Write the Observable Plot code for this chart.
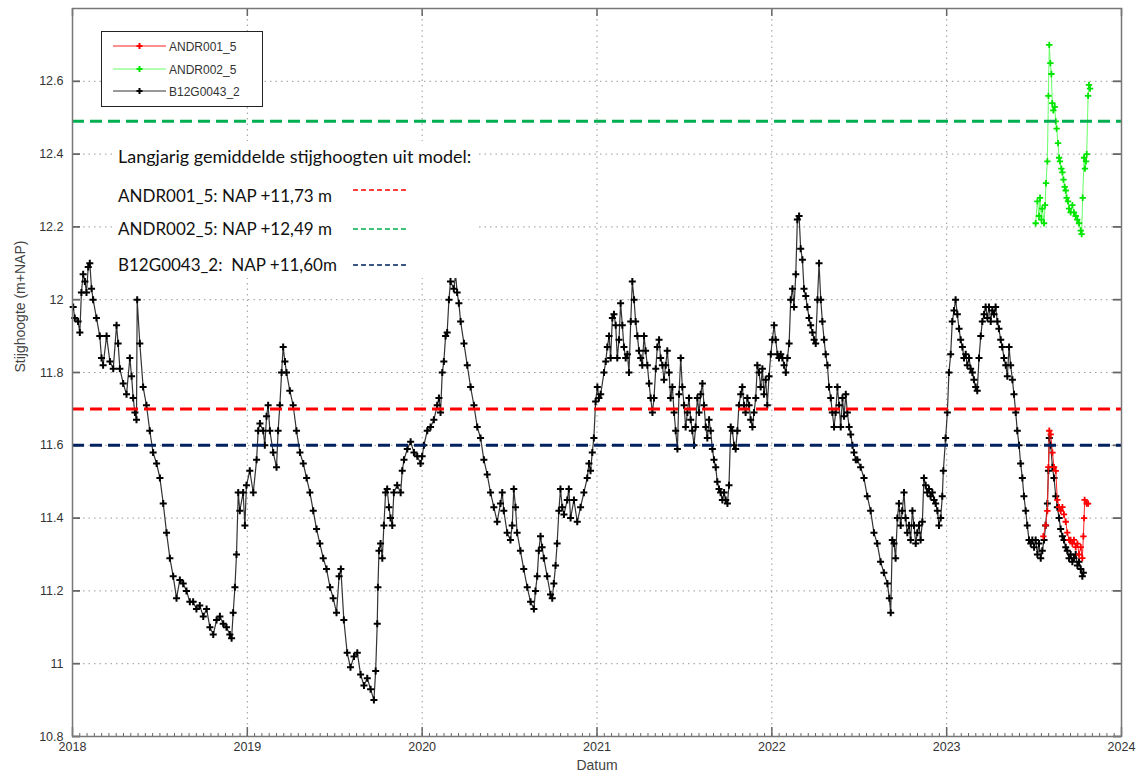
<!DOCTYPE html>
<html><head><meta charset="utf-8">
<script src="https://cdn.jsdelivr.net/npm/d3@7"></script>
<script src="https://cdn.jsdelivr.net/npm/@observablehq/plot@0.6"></script>
<style>
body{margin:0;background:#fff;}
#wrap{position:relative;width:1138px;height:778px;overflow:hidden;}
#legend{position:absolute;left:101px;top:31px;width:160px;height:74px;border:1px solid #222;background:#fff;font-family:"Liberation Sans",Arial,sans-serif;font-size:12px;color:#333;}
#note{position:absolute;left:115px;top:141px;width:362px;height:137px;background:#fff;font-family:Lato,"Open Sans",sans-serif;font-size:17px;color:#111;}
.nl{position:absolute;left:3px;white-space:pre;line-height:20px;}
</style></head><body><div id="wrap"></div>
<script>
// ---- data (decimal year, m+NAP) ----
const blackReadings = [
[2018.004,11.98],[2018.013,11.95],[2018.032,11.94],[2018.042,11.91],[2018.051,12.02],[2018.061,12.07],[2018.071,12.05],[2018.080,12.02],[2018.090,12.09],[2018.099,12.10],[2018.109,12.03],[2018.118,12.00],[2018.137,11.95],[2018.156,11.90],[2018.166,11.84],[2018.175,11.82],[2018.195,11.90],[2018.214,11.83],[2018.233,11.81],[2018.252,11.93],[2018.261,11.88],[2018.271,11.81],[2018.290,11.77],[2018.309,11.74],[2018.328,11.84],[2018.338,11.79],[2018.347,11.73],[2018.357,11.69],[2018.366,11.67],[2018.370,12.00],[2018.385,11.88],[2018.404,11.76],[2018.423,11.71],[2018.442,11.64],[2018.461,11.58],[2018.481,11.55],[2018.500,11.51],[2018.519,11.44],[2018.538,11.36],[2018.557,11.29],[2018.576,11.24],[2018.595,11.18],[2018.614,11.23],[2018.633,11.22],[2018.652,11.20],[2018.671,11.17],[2018.690,11.17],[2018.709,11.15],[2018.728,11.16],[2018.748,11.13],[2018.767,11.15],[2018.786,11.10],[2018.805,11.08],[2018.824,11.12],[2018.843,11.13],[2018.862,11.11],[2018.881,11.10],[2018.900,11.08],[2018.910,11.07],[2018.919,11.14],[2018.929,11.21],[2018.938,11.30],[2018.948,11.47],[2018.957,11.42],[2018.976,11.47],[2018.986,11.38],[2018.995,11.49],
[2019.014,11.53],[2019.034,11.47],[2019.053,11.56],[2019.062,11.64],[2019.072,11.66],[2019.091,11.64],[2019.100,11.60],[2019.110,11.68],[2019.119,11.71],[2019.129,11.64],[2019.148,11.58],[2019.167,11.54],[2019.176,11.64],[2019.186,11.71],[2019.196,11.80],[2019.205,11.87],[2019.215,11.83],[2019.224,11.80],[2019.243,11.75],[2019.262,11.71],[2019.281,11.64],[2019.301,11.58],[2019.320,11.55],[2019.339,11.51],[2019.358,11.47],[2019.377,11.42],[2019.396,11.37],[2019.415,11.33],[2019.434,11.29],[2019.453,11.26],[2019.473,11.21],[2019.491,11.18],[2019.510,11.14],[2019.525,11.24],[2019.535,11.26],[2019.552,11.12],[2019.571,11.03],[2019.590,10.99],[2019.610,11.02],[2019.629,11.03],[2019.648,10.97],[2019.667,10.94],[2019.686,10.96],[2019.705,10.93],[2019.724,10.90],[2019.734,10.98],[2019.743,11.11],[2019.747,11.21],[2019.753,11.31],[2019.762,11.33],[2019.772,11.29],[2019.781,11.38],[2019.791,11.47],[2019.800,11.48],[2019.810,11.43],[2019.819,11.40],[2019.829,11.38],[2019.838,11.47],[2019.857,11.49],[2019.877,11.47],[2019.886,11.53],[2019.896,11.56],[2019.915,11.59],[2019.934,11.61],[2019.953,11.58],[2019.972,11.57],[2019.991,11.55],
[2020.000,11.57],[2020.010,11.60],[2020.029,11.64],[2020.048,11.65],[2020.067,11.67],[2020.086,11.71],[2020.096,11.73],[2020.105,11.69],[2020.115,11.80],[2020.124,11.83],[2020.134,11.90],[2020.143,11.91],[2020.153,12.00],[2020.162,12.05],[2020.181,12.03],[2020.191,12.07],[2020.200,12.02],[2020.210,11.99],[2020.220,11.94],[2020.239,11.88],[2020.258,11.82],[2020.277,11.76],[2020.296,11.71],[2020.315,11.65],[2020.334,11.62],[2020.353,11.56],[2020.372,11.52],[2020.391,11.47],[2020.410,11.43],[2020.429,11.39],[2020.448,11.44],[2020.458,11.47],[2020.467,11.42],[2020.486,11.36],[2020.505,11.34],[2020.515,11.38],[2020.524,11.48],[2020.534,11.43],[2020.543,11.36],[2020.562,11.31],[2020.581,11.26],[2020.601,11.21],[2020.620,11.17],[2020.639,11.15],[2020.648,11.20],[2020.658,11.24],[2020.667,11.31],[2020.677,11.35],[2020.686,11.32],[2020.696,11.29],[2020.715,11.24],[2020.734,11.19],[2020.744,11.18],[2020.753,11.22],[2020.763,11.27],[2020.772,11.33],[2020.782,11.42],[2020.791,11.48],[2020.801,11.43],[2020.811,11.41],[2020.830,11.45],[2020.839,11.48],[2020.849,11.40],[2020.868,11.45],[2020.887,11.39],[2020.906,11.43],[2020.925,11.47],[2020.944,11.51],[2020.954,11.55],[2020.963,11.53],[2020.973,11.58],[2020.982,11.62],[2020.992,11.72],
[2021.002,11.76],[2021.011,11.73],[2021.021,11.74],[2021.040,11.80],[2021.050,11.83],[2021.059,11.87],[2021.069,11.90],[2021.078,11.84],[2021.088,11.95],[2021.097,11.96],[2021.107,11.93],[2021.116,11.84],[2021.126,11.89],[2021.135,11.99],[2021.145,11.93],[2021.154,11.87],[2021.164,11.84],[2021.174,11.85],[2021.183,11.80],[2021.193,11.94],[2021.202,12.05],[2021.212,12.00],[2021.221,11.94],[2021.231,11.90],[2021.240,11.86],[2021.250,11.84],[2021.259,11.82],[2021.269,11.90],[2021.278,11.86],[2021.288,11.82],[2021.298,11.77],[2021.307,11.73],[2021.317,11.69],[2021.326,11.73],[2021.336,11.81],[2021.345,11.87],[2021.355,11.89],[2021.364,11.84],[2021.374,11.82],[2021.383,11.78],[2021.393,11.82],[2021.402,11.86],[2021.412,11.80],[2021.421,11.73],[2021.431,11.76],[2021.441,11.69],[2021.450,11.64],[2021.460,11.59],[2021.469,11.74],[2021.479,11.84],[2021.488,11.76],[2021.498,11.71],[2021.507,11.65],[2021.517,11.69],[2021.526,11.73],[2021.536,11.67],[2021.545,11.64],[2021.555,11.60],[2021.564,11.65],[2021.574,11.73],[2021.584,11.69],[2021.593,11.74],[2021.603,11.77],[2021.612,11.71],[2021.622,11.65],[2021.631,11.62],[2021.641,11.67],[2021.650,11.64],[2021.660,11.59],[2021.669,11.56],[2021.679,11.54],[2021.688,11.50],[2021.698,11.48],[2021.707,11.47],[2021.717,11.45],[2021.727,11.47],[2021.736,11.45],[2021.746,11.44],[2021.755,11.49],[2021.765,11.65],[2021.774,11.64],[2021.784,11.60],[2021.793,11.59],[2021.803,11.64],[2021.812,11.71],[2021.822,11.74],[2021.831,11.76],[2021.841,11.71],[2021.850,11.69],[2021.860,11.73],[2021.870,11.71],[2021.879,11.67],[2021.889,11.65],[2021.898,11.69],[2021.908,11.73],[2021.917,11.82],[2021.927,11.80],[2021.936,11.76],[2021.946,11.81],[2021.955,11.74],[2021.965,11.78],[2021.974,11.71],[2021.984,11.79],[2021.994,11.85],
[2022.003,11.89],[2022.013,11.93],[2022.022,11.89],[2022.032,11.85],[2022.041,11.84],[2022.051,11.85],[2022.060,11.84],[2022.070,11.82],[2022.080,11.80],[2022.089,11.84],[2022.099,11.88],[2022.108,12.00],[2022.118,12.03],[2022.127,11.98],[2022.137,12.07],[2022.146,12.22],[2022.156,12.23],[2022.165,12.14],[2022.175,12.11],[2022.184,12.03],[2022.194,12.01],[2022.203,11.98],[2022.213,11.95],[2022.222,11.93],[2022.232,11.91],[2022.242,11.89],[2022.251,11.88],[2022.261,12.00],[2022.270,12.10],[2022.280,12.00],[2022.289,11.94],[2022.299,11.89],[2022.308,11.85],[2022.318,11.82],[2022.327,11.76],[2022.337,11.73],[2022.346,11.69],[2022.356,11.65],[2022.365,11.69],[2022.375,11.76],[2022.385,11.71],[2022.394,11.65],[2022.404,11.73],[2022.413,11.68],[2022.423,11.74],[2022.432,11.69],[2022.442,11.65],[2022.451,11.63],[2022.461,11.60],[2022.470,11.58],[2022.480,11.56],[2022.489,11.56],[2022.508,11.54],[2022.527,11.51],[2022.546,11.46],[2022.565,11.42],[2022.584,11.36],[2022.603,11.33],[2022.622,11.28],[2022.641,11.25],[2022.661,11.22],[2022.672,11.18],[2022.680,11.14],[2022.689,11.34],[2022.699,11.33],[2022.708,11.29],[2022.718,11.40],[2022.727,11.44],[2022.737,11.38],[2022.746,11.42],[2022.756,11.47],[2022.765,11.40],[2022.775,11.36],[2022.785,11.38],[2022.794,11.34],[2022.804,11.42],[2022.813,11.38],[2022.823,11.33],[2022.832,11.36],[2022.842,11.38],[2022.851,11.34],[2022.861,11.39],[2022.870,11.51],[2022.880,11.49],[2022.889,11.47],[2022.899,11.48],[2022.908,11.46],[2022.918,11.47],[2022.928,11.45],[2022.937,11.44],[2022.947,11.42],[2022.956,11.38],[2022.966,11.40],[2022.975,11.46],[2022.981,11.53],[2022.994,11.62],
[2023.004,11.69],[2023.013,11.80],[2023.023,11.85],[2023.032,11.94],[2023.042,11.97],[2023.051,12.00],[2023.061,11.96],[2023.071,11.92],[2023.080,11.89],[2023.090,11.87],[2023.099,11.84],[2023.109,11.85],[2023.118,11.82],[2023.128,11.84],[2023.137,11.81],[2023.147,11.80],[2023.156,11.78],[2023.166,11.76],[2023.175,11.75],[2023.185,11.84],[2023.195,11.90],[2023.204,11.94],[2023.214,11.96],[2023.223,11.98],[2023.233,11.95],[2023.242,11.98],[2023.252,11.94],[2023.261,11.97],[2023.271,11.96],[2023.280,11.98],[2023.290,11.94],[2023.299,11.92],[2023.309,11.89],[2023.318,11.87],[2023.328,11.84],[2023.338,11.82],[2023.347,11.79],[2023.357,11.87],[2023.366,11.82],[2023.376,11.78],[2023.385,11.74],[2023.395,11.69],[2023.404,11.64],[2023.414,11.60],[2023.423,11.55],[2023.433,11.51],[2023.442,11.46],[2023.452,11.42],[2023.461,11.38],[2023.471,11.34],[2023.481,11.33],[2023.490,11.34],[2023.500,11.32],[2023.509,11.34],[2023.519,11.30],[2023.528,11.33],[2023.538,11.29],[2023.547,11.31],[2023.557,11.34],[2023.566,11.38],[2023.576,11.44],[2023.582,11.53],[2023.587,11.62],[2023.595,11.60],[2023.605,11.54],[2023.614,11.51],[2023.624,11.46],[2023.633,11.43],[2023.643,11.40],[2023.652,11.37],[2023.662,11.35],[2023.671,11.34],[2023.681,11.32],[2023.690,11.31],[2023.700,11.29],[2023.709,11.30],[2023.719,11.28],[2023.728,11.29],[2023.738,11.30],[2023.748,11.27],[2023.757,11.28],[2023.767,11.26],[2023.776,11.24],[2023.782,11.25]
];
const redReadings = [
[2023.553,11.35],[2023.566,11.38],[2023.576,11.42],[2023.582,11.54],[2023.587,11.64],[2023.595,11.63],[2023.605,11.58],[2023.614,11.54],[2023.624,11.53],[2023.633,11.45],[2023.643,11.43],[2023.652,11.42],[2023.662,11.43],[2023.671,11.41],[2023.681,11.39],[2023.690,11.36],[2023.700,11.34],[2023.709,11.34],[2023.719,11.33],[2023.728,11.34],[2023.738,11.32],[2023.748,11.33],[2023.757,11.30],[2023.767,11.32],[2023.776,11.29],[2023.782,11.35],[2023.786,11.40],[2023.789,11.45],[2023.801,11.44],[2023.809,11.44]
];
const greenReadings = [
[2023.509,12.21],[2023.519,12.27],[2023.528,12.23],[2023.534,12.28],[2023.542,12.22],[2023.547,12.25],[2023.557,12.21],[2023.563,12.26],[2023.568,12.32],[2023.576,12.38],[2023.582,12.56],[2023.587,12.70],[2023.593,12.65],[2023.599,12.62],[2023.604,12.54],[2023.610,12.52],[2023.618,12.53],[2023.624,12.49],[2023.629,12.47],[2023.637,12.43],[2023.643,12.39],[2023.648,12.38],[2023.656,12.36],[2023.662,12.35],[2023.668,12.33],[2023.675,12.31],[2023.681,12.30],[2023.686,12.28],[2023.694,12.27],[2023.700,12.25],[2023.709,12.24],[2023.719,12.26],[2023.728,12.24],[2023.738,12.23],[2023.747,12.22],[2023.757,12.21],[2023.767,12.19],[2023.772,12.18],[2023.778,12.28],[2023.786,12.39],[2023.791,12.36],[2023.797,12.38],[2023.801,12.40],[2023.809,12.56],[2023.814,12.59],[2023.820,12.58]
];
const seriesNames = ["ANDR001_5", "ANDR002_5", "B12G0043_2"];
const seriesColors = ["#ff0000", "#00e600", "#000000"];
const seriesLineColors = ["#ff2020", "#66ff66", "#333333"];
const refLevels = [11.70, 12.49, 11.60];
const refLabels = ["ANDR001_5: NAP +11,73 m", "ANDR002_5: NAP +12,49 m", "B12G0043_2:  NAP +11,60m"];
const refColors = ["#ff0000", "#00b050", "#002060"];
const noteTitle = "Langjarig gemiddelde stijghoogten uit model:";
const xTicks = [2018, 2019, 2020, 2021, 2022, 2023, 2024];
const yTicks = [10.8, 11, 11.2, 11.4, 11.6, 11.8, 12, 12.2, 12.4, 12.6];
const yTickLabels = ["10.8", "11", "11.2", "11.4", "11.6", "11.8", "12", "12.2", "12.4", "12.6"];
const xLabel = "Datum";
const yLabel = "Stijghoogte (m+NAP)";

const toObj = arr => arr.map(([t, v]) => ({t, v}));
const black = toObj(blackReadings), red = toObj(redReadings), green = toObj(greenReadings);

const W = 1138, H = 778, mL = 72, mR = 17, mT = 8, mB = 42;
const pw = W - mL - mR, ph = H - mT - mB;
const minorTicks = d3.range(0, 6 * 24 + 1).map(i => 2018 + i / 24);
const axisGrey = "#666";

const chart = Plot.plot({
  width: W, height: H,
  marginLeft: mL, marginRight: mR, marginTop: mT, marginBottom: mB,
  style: {fontFamily: "'Liberation Sans', Arial, sans-serif", fontSize: "12.5px", color: "#333", background: "white"},
  x: {domain: [2018, 2024]},
  y: {domain: [10.8, 12.8]},
  marks: [
    Plot.gridY(yTicks, {stroke: "#999", strokeOpacity: 1, strokeDasharray: "1.5,4"}),
    Plot.gridX(xTicks, {stroke: "#999", strokeOpacity: 1, strokeDasharray: "1.5,4"}),
    Plot.tickX(minorTicks, {x: d => d, insetTop: ph - 3, stroke: axisGrey, strokeWidth: 1}),
    Plot.tickX(xTicks, {x: d => d, insetTop: ph - 9, stroke: axisGrey, strokeWidth: 1.5}),
    Plot.tickX(xTicks, {x: d => d, insetBottom: ph - 8, stroke: axisGrey, strokeWidth: 1.5}),
    Plot.tickY(yTicks, {y: d => d, insetRight: pw - 8, stroke: axisGrey, strokeWidth: 1.8}),
    Plot.tickY(yTicks, {y: d => d, insetLeft: pw - 8, stroke: axisGrey, strokeWidth: 1.8}),
    Plot.line(black, {x: "t", y: "v", stroke: seriesLineColors[2], strokeWidth: 1.2}),
    Plot.dot(black, {x: "t", y: "v", symbol: "plus", r: 2.4, stroke: seriesColors[2], strokeWidth: 2, fill: "none"}),
    Plot.line(red, {x: "t", y: "v", stroke: seriesLineColors[0], strokeWidth: 1}),
    Plot.dot(red, {x: "t", y: "v", symbol: "plus", r: 2.2, stroke: seriesColors[0], strokeWidth: 1.8, fill: "none"}),
    Plot.line(green, {x: "t", y: "v", stroke: seriesLineColors[1], strokeWidth: 1}),
    Plot.dot(green, {x: "t", y: "v", symbol: "plus", r: 2.2, stroke: seriesColors[1], strokeWidth: 1.8, fill: "none"}),
    ...refLevels.map((lv, i) => Plot.ruleY([lv], {stroke: refColors[i], strokeWidth: 3, strokeDasharray: "12,6"})),
    Plot.frame({stroke: "#777", strokeWidth: 1.5}),
    Plot.axisY(yTicks, {tickSize: 0, tickPadding: 9, tickFormat: d => yTickLabels[yTicks.indexOf(d)], label: null}),
    Plot.axisX(xTicks, {tickSize: 0, tickPadding: 6, tickFormat: d => String(d), label: null}),
    Plot.text([yLabel], {frameAnchor: "left", rotate: -90, dx: -52, fontSize: 14, fill: "#444"}),
    Plot.text([xLabel], {frameAnchor: "bottom", dy: 33, fontSize: 14, fill: "#444"})
  ]
});
const wrap = document.getElementById("wrap");
wrap.appendChild(chart);

// legend (top-left box)
const leg = document.createElement("div");
leg.id = "legend";
const rowsY = [14, 37, 59];
let svg = `<svg width="160" height="74" style="position:absolute;left:0;top:0">`;
seriesNames.forEach((n, i) => {
  const y = rowsY[i];
  svg += `<line x1="11" x2="64" y1="${y}" y2="${y}" stroke="${seriesLineColors[i]}" stroke-width="1"/>`;
  svg += `<path d="M37.5,${y - 3}v6M34.5,${y}h6" stroke="${seriesColors[i]}" stroke-width="2"/>`;
  svg += `<text x="67" y="${y + 4.5}" font-size="12" fill="#333">${n}</text>`;
});
svg += `</svg>`;
leg.innerHTML = svg;
wrap.appendChild(leg);

// annotation with model averages
const note = document.createElement("div");
note.id = "note";
const lineTops = [5, 45, 78, 114];
let html = `<div class="nl" style="top:${lineTops[0]}px;font-size:18px">${noteTitle}</div>`;
refLabels.forEach((l, i) => {
  html += `<div class="nl" style="top:${lineTops[i + 1]}px">${l}</div>`;
});
html += `<svg width="362" height="137" style="position:absolute;left:0;top:0">`;
const dashY = [49, 88, 124];
refColors.forEach((c, i) => {
  html += `<line x1="238" x2="294" y1="${dashY[i]}" y2="${dashY[i]}" stroke="${c}" stroke-width="1.6" stroke-dasharray="5,3"/>`;
});
html += `</svg>`;
note.innerHTML = html;
wrap.appendChild(note);
</script>
</body></html>
